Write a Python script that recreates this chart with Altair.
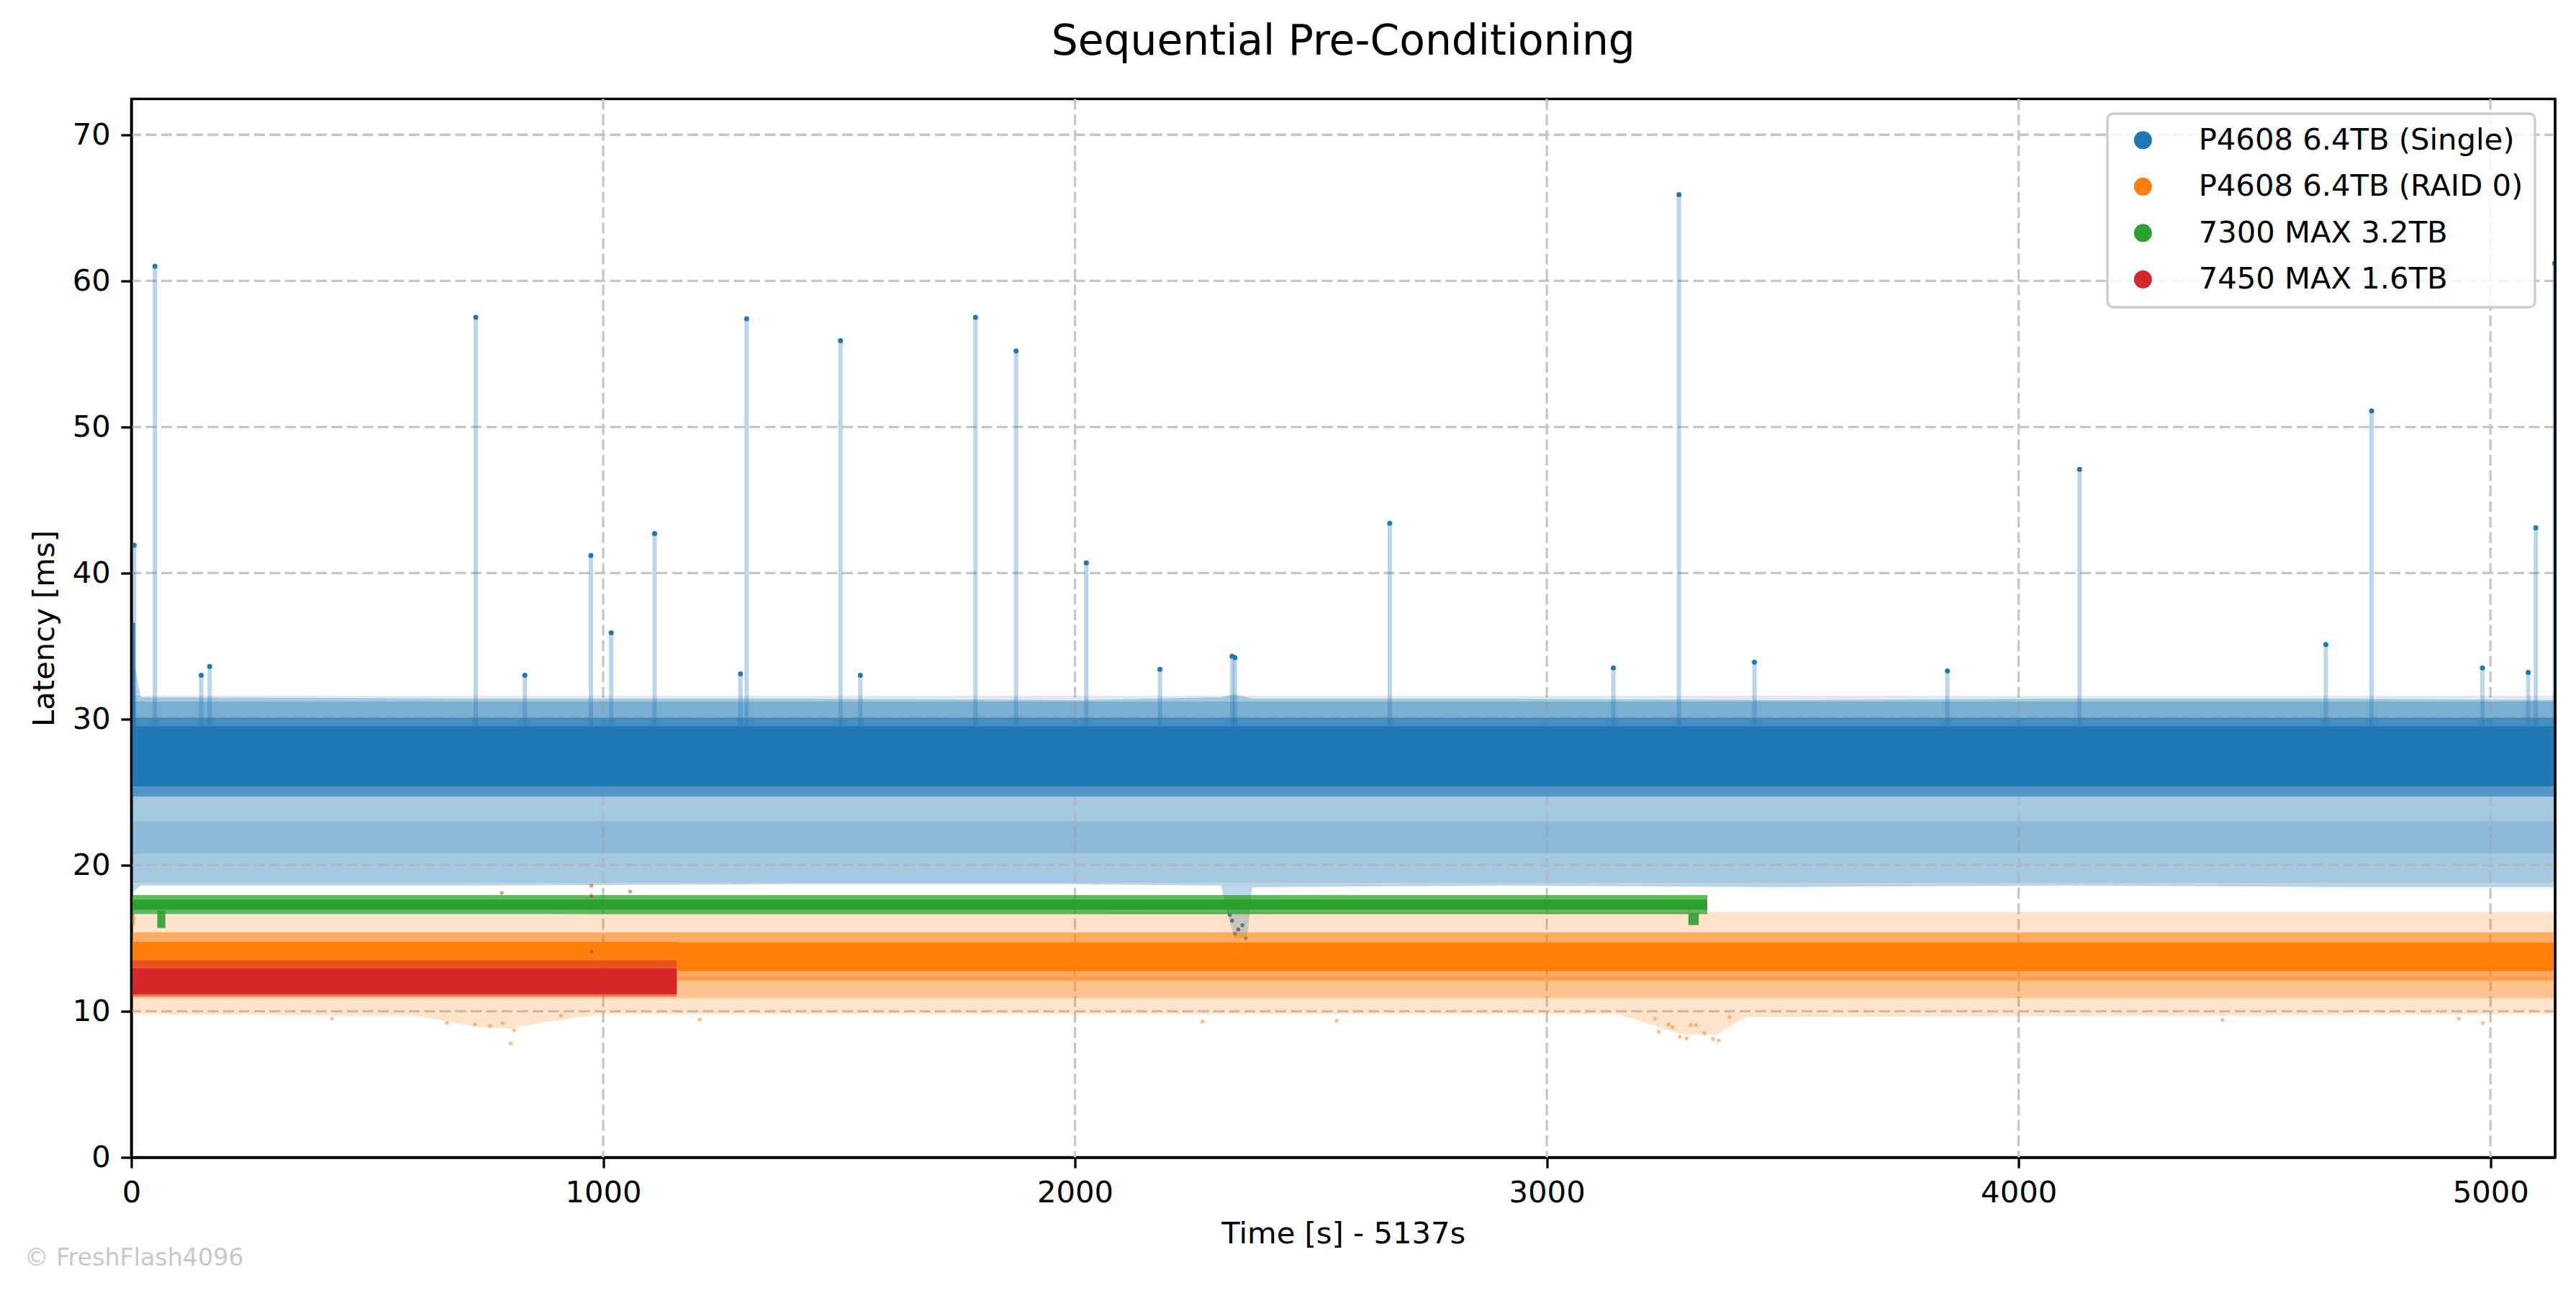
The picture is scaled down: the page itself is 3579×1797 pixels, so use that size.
import altair as alt
import pandas as pd

TITLE = "Sequential Pre-Conditioning"
X_TITLE = "Time [s] - 5137s"
Y_TITLE = "Latency [ms]"
WATERMARK = "© FreshFlash4096"

SERIES = ["P4608 6.4TB (Single)", "P4608 6.4TB (RAID 0)", "7300 MAX 3.2TB", "7450 MAX 1.6TB"]
COLORS = ["#1f77b4", "#ff7f0e", "#2ca02c", "#d62728"]

X_TICKS = [0, 1000, 2000, 3000, 4000, 5000]
Y_TICKS = [0, 10, 20, 30, 40, 50, 60, 70]
X_MAX = 5137
Y_MAX = 72.45

# ---------- P4608 6.4TB (Single) ----------
# envelope of the connecting line (light fill)
blue_env_t = [0, 8, 20, 700, 1400, 2000, 2310, 2322, 2338, 2365, 2375, 2900, 3500, 4100, 4700, 5137]
blue_env_lo = [18.0, 18.3, 18.6, 18.6, 18.7, 18.7, 18.6, 16.8, 15.0, 15.0, 18.5, 18.6, 18.5, 18.6, 18.5, 18.5]
blue_env_hi = [36.6, 33.5, 31.5, 31.4, 31.4, 31.3, 31.5, 31.6, 31.7, 31.5, 31.4, 31.4, 31.3, 31.4, 31.4, 31.3]
# point-cloud bands
blue_band_t = [0, 5137]
blue_halo_lo = [18.8, 18.8]
blue_halo_hi = [31.6, 31.6]
blue_upper_lo = [29.0, 29.0]
blue_upper_hi = [31.2, 31.2]
blue_sub_lo = [20.8, 20.8]
blue_sub_hi = [23.0, 23.0]
blue_fuzz_lo = [24.7, 24.7]
blue_fuzz_hi = [30.1, 30.1]
blue_core_lo = [25.4, 25.4]
blue_core_hi = [29.5, 29.5]
# start burst
blue_start_t0 = [0]
blue_start_t1 = [8]
blue_start_lo = [29.0]
blue_start_hi = [36.6]
# spikes
blue_spike_t = [6, 50, 148, 166, 730, 834, 974, 1017, 1109, 1291, 1304, 1503, 1545, 1789, 1875,
                2024, 2180, 2333, 2339, 2667, 3141, 3280, 3440, 3849, 4129, 4651, 4748, 4983,
                5080, 5096, 5136]
blue_spike_v = [41.9, 61.0, 33.0, 33.6, 57.5, 33.0, 41.2, 35.9, 42.7, 33.1, 57.4, 55.9, 33.0, 57.5, 55.2,
                40.7, 33.4, 34.3, 34.2, 43.4, 33.5, 65.9, 33.9, 33.3, 47.1, 35.1, 51.1, 33.5,
                33.2, 43.1, 61.2]
blue_spike_base = [29.5] * len(blue_spike_t)
# dip near 2340 s
blue_dip_t = [2323, 2328, 2333, 2339, 2346, 2355, 2362]
blue_dip_v = [17.05, 16.6, 16.2, 15.3, 15.6, 15.9, 15.0]

# ---------- P4608 6.4TB (RAID 0) ----------
orange_halo_t = [0, 600, 720, 800, 880, 1000, 3150, 3230, 3290, 3360, 3420, 5137]
orange_halo_lo = [9.8, 9.7, 9.0, 8.8, 9.3, 9.8, 9.8, 9.0, 8.4, 8.4, 9.6, 9.8]
orange_halo_hi = [16.6, 16.6, 16.6, 16.6, 16.6, 16.7, 16.8, 16.8, 16.8, 16.8, 16.8, 16.8]
orange_band_t = [0, 5137]
orange_low_lo = [10.9, 10.9]
orange_low_hi = [12.4, 12.4]
orange_fuzz_lo = [12.1, 12.1]
orange_fuzz_hi = [15.4, 15.4]
orange_core_t = [0, 1156, 1160, 5137]
orange_core_lo = [13.0, 13.0, 12.75, 12.75]
orange_core_hi = [14.75, 14.75, 14.7, 14.7]
orange_start_t0 = [0]
orange_start_t1 = [6]
orange_start_lo = [15.9]
orange_start_hi = [16.7]
orange_out_t = [804, 811, 787, 669, 728, 760, 425, 1205, 910, 3229, 3237, 3258, 3266, 3282, 3296,
                3305, 3316, 3334, 3352, 3364, 3387, 4432, 4984, 4933, 2554, 2270]
orange_out_v = [7.8, 8.7, 9.2, 9.2, 9.1, 9.0, 9.5, 9.45, 9.7, 9.5, 8.6, 9.1, 8.9, 8.25, 8.15,
                9.05, 9.05, 8.5, 8.1, 8.0, 9.6, 9.4, 9.2, 9.5, 9.36, 9.3]

# ---------- 7300 MAX 3.2TB ----------
green_t = [0, 3340]
green_halo_lo = [16.65, 16.65]
green_halo_hi = [17.95, 17.95]
green_core_lo = [16.95, 16.95]
green_core_hi = [17.65, 17.65]
green_dip_t0 = [55, 3300]
green_dip_t1 = [72, 3322]
green_dip_lo = [15.7, 15.9]
green_dip_hi = [16.9, 16.7]

# ---------- 7450 MAX 1.6TB ----------
red_t = [0, 1156]
red_fuzz_lo = [11.0, 11.0]
red_fuzz_hi = [13.5, 13.5]
red_core_lo = [11.15, 11.15]
red_core_hi = [12.95, 12.95]
red_out_t = [785, 975, 975, 1057, 975]
red_out_v = [18.1, 18.6, 17.9, 18.2, 14.1]

FONT = "DejaVu Sans"
PLOT_W = 3367.5
PLOT_H = 1471

xs = alt.Scale(domain=[0, X_MAX], nice=False, zero=False)
ys = alt.Scale(domain=[0, Y_MAX], nice=False, zero=False)
cs = alt.Scale(domain=SERIES, range=COLORS)

x_axis = alt.Axis(values=X_TICKS, format="d", title=X_TITLE, titlePadding=15,
                  labelFlush=False, grid=False)
y_axis = alt.Axis(values=Y_TICKS, format="d", title=Y_TITLE, titlePadding=16.7, grid=False)

legend = alt.Legend(
    orient="none", legendX=2745.5, legendY=20.5, title=None,
    symbolType="circle", symbolSize=625, symbolOffset=12.5, labelOffset=56.5,
    symbolOpacity=1, symbolStrokeWidth=0,
)


def X(field):
    return alt.X(field, type="quantitative", scale=xs, axis=x_axis, title=X_TITLE)


def Y(field):
    return alt.Y(field, type="quantitative", scale=ys, axis=y_axis, title=Y_TITLE, stack=None)


def C():
    return alt.Color("series:N", scale=cs, legend=legend)


def area(series, t, lo, hi, opacity):
    df = pd.DataFrame({"t": t, "lo": lo, "hi": hi})
    df["series"] = series
    return alt.Chart(df).mark_area(opacity=opacity, interpolate="linear").encode(
        x=X("t"), y=Y("lo"), y2="hi:Q", color=C()
    )


def rect(series, t0, t1, lo, hi, opacity):
    df = pd.DataFrame({"t0": t0, "t1": t1, "lo": lo, "hi": hi})
    df["series"] = series
    return alt.Chart(df).mark_rect(opacity=opacity).encode(
        x=X("t0"), x2="t1:Q", y=Y("lo"), y2="hi:Q", color=C()
    )


def points(series, t, v, size, opacity):
    df = pd.DataFrame({"t": t, "v": v})
    col = COLORS[SERIES.index(series)]
    return alt.Chart(df).mark_circle(size=size, opacity=opacity, clip=True, color=col).encode(
        x=X("t"), y=Y("v")
    )


B, O, G, R = SERIES

# dashed grid
grid_x = alt.Chart(pd.DataFrame({"g": X_TICKS[1:]})).mark_rule(
    color="#c6c6c6", strokeWidth=3.3, strokeDash=[15, 6.5]
).encode(x=X("g"))
grid_y = alt.Chart(pd.DataFrame({"g": Y_TICKS[1:]})).mark_rule(
    color="#c6c6c6", strokeWidth=3.3, strokeDash=[15, 6.5]
).encode(y=Y("g"))

spike_df = pd.DataFrame({"t": blue_spike_t, "v": blue_spike_v, "base": blue_spike_base})
spike_rules = alt.Chart(spike_df).mark_rule(
    strokeWidth=6, opacity=0.3, clip=True, color=COLORS[0]
).encode(x=X("t"), y=Y("v"), y2="base:Q")

# frame lines on top of the bands (left / right spines)
frame_df = pd.DataFrame({"g": [0, X_MAX]})
frame = alt.Chart(frame_df).mark_rule(color="black", strokeWidth=3.3).encode(x=X("g"))

layers = [
    area(B, blue_env_t, blue_env_lo, blue_env_hi, 0.3),
    grid_x,
    grid_y,
    spike_rules,
    area(B, blue_band_t, blue_halo_lo, blue_halo_hi, 0.15),
    area(B, blue_band_t, blue_upper_lo, blue_upper_hi, 0.3),
    area(B, blue_band_t, blue_sub_lo, blue_sub_hi, 0.18),
    area(B, blue_band_t, blue_fuzz_lo, blue_fuzz_hi, 0.6),
    area(B, blue_band_t, blue_core_lo, blue_core_hi, 1.0),
    rect(B, blue_start_t0, blue_start_t1, blue_start_lo, blue_start_hi, 0.9),
    points(B, blue_spike_t, blue_spike_v, 49, 1.0),
    points(B, blue_dip_t, blue_dip_v, 30, 1.0),
    area(O, orange_halo_t, orange_halo_lo, orange_halo_hi, 0.22),
    area(O, orange_band_t, orange_low_lo, orange_low_hi, 0.32),
    area(O, orange_band_t, orange_fuzz_lo, orange_fuzz_hi, 0.55),
    area(O, orange_core_t, orange_core_lo, orange_core_hi, 1.0),
    rect(O, orange_start_t0, orange_start_t1, orange_start_lo, orange_start_hi, 1.0),
    points(O, orange_out_t, orange_out_v, 30, 0.5),
    area(G, green_t, green_halo_lo, green_halo_hi, 0.75),
    area(G, green_t, green_core_lo, green_core_hi, 1.0),
    rect(G, green_dip_t0, green_dip_t1, green_dip_lo, green_dip_hi, 0.9),
    area(R, red_t, red_fuzz_lo, red_fuzz_hi, 0.5),
    area(R, red_t, red_core_lo, red_core_hi, 1.0),
    points(R, red_out_t, red_out_v, 30, 0.5),
    frame,
]

text_df = pd.DataFrame({"txt": [WATERMARK]})
watermark = alt.Chart(text_df).mark_text(
    align="left", baseline="middle", fontSize=33.3, font=FONT, color="#c8c8c8"
).encode(x=alt.value(-148.5), y=alt.value(1611.5), text="txt:N")

title_df = pd.DataFrame({"txt": [TITLE]})
title = alt.Chart(title_df).mark_text(
    align="center", baseline="alphabetic", fontSize=58.3, font=FONT, color="black"
).encode(x=alt.value(PLOT_W / 2), y=alt.value(-62), text="txt:N")

chart = alt.layer(*layers, watermark, title).properties(
    width=PLOT_W,
    height=PLOT_H,
    padding={"left": 174.5, "top": 129.5, "right": 20, "bottom": 180},
    autosize=alt.AutoSizeParams(type="none"),
).configure_view(
    stroke="black", strokeWidth=3.3
).configure_axis(
    labelFont=FONT, titleFont=FONT, labelFontSize=41.7, titleFontSize=41.7,
    labelColor="black", titleColor="black", tickColor="black", domainColor="black",
    domainWidth=3.3, tickWidth=3.3, tickSize=14.6, labelPadding=14.6,
    titleFontWeight="normal", labelOverlap=False,
).configure_legend(
    labelFont=FONT, labelFontSize=41.7, labelColor="black", labelLimit=2000,
    symbolType="circle", symbolSize=625, symbolOffset=12.5, labelOffset=56.5,
    rowPadding=21.5, padding=16, strokeColor="#cccccc", strokeWidth=3.3,
    cornerRadius=8, fillColor="rgba(255,255,255,0.8)", symbolOpacity=1,
    symbolStrokeWidth=0,
)

chart.save("out.html", embed_options={"renderer": "svg", "actions": False})
